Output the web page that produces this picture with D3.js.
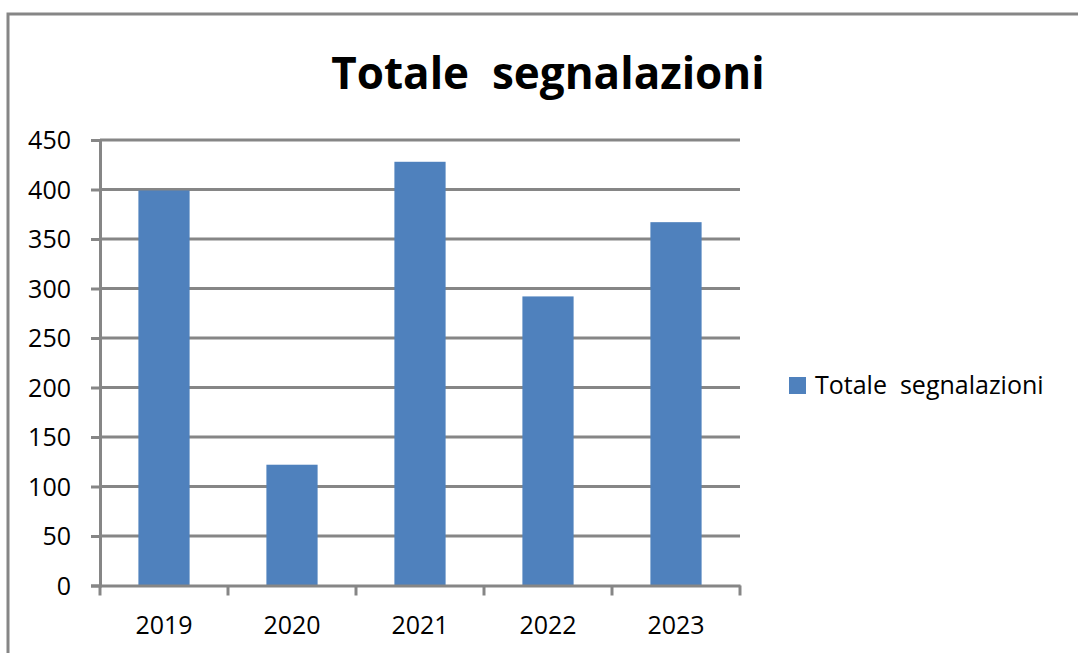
<!DOCTYPE html>
<html>
<head>
<meta charset="utf-8">
<script src="https://cdn.jsdelivr.net/npm/d3@7"></script>
<style>
  html,body{margin:0;padding:0;background:#fff;}
  svg{display:block;}
  text{font-family:"Open Sans",sans-serif;fill:#000;}
</style>
</head>
<body>
<div id="chart"></div>
<script>
const years  = ['2019','2020','2021','2022','2023'];
const totals = [399, 122, 428, 292, 367];
const yTicks = [0,50,100,150,200,250,300,350,400,450];
const seriesName = 'Totale  segnalazioni';
const titleText  = 'Totale  segnalazioni';

const W = 1078, H = 653;
const gridCol = '#868686', barCol = '#4f81bd';

const svg = d3.select('#chart').append('svg')
    .attr('width', W).attr('height', H);

// outer frame of the chart area (runs off right/bottom)
svg.append('rect')
    .attr('x', 8).attr('y', 14)
    .attr('width', W + 20).attr('height', H + 20)
    .attr('fill', '#fff')
    .attr('stroke', gridCol).attr('stroke-width', 3);

const plot = {left: 100, right: 740, top: 140, bottom: 585.5};

const x = d3.scaleBand()
    .domain(years)
    .range([plot.left, plot.right])
    .paddingInner(0.6).paddingOuter(0.3);

const xCat = d3.scaleBand().domain(years).range([plot.left, plot.right]);

const y = d3.scaleLinear()
    .domain([0, 450])
    .range([plot.bottom, plot.top]);

// gridlines
svg.append('g').selectAll('line')
    .data(yTicks.filter(d => d > 0))
    .join('line')
    .attr('x1', plot.left).attr('x2', plot.right)
    .attr('y1', d => y(d)).attr('y2', d => y(d))
    .attr('stroke', gridCol).attr('stroke-width', 3);

// bars
svg.append('g').selectAll('rect')
    .data(totals)
    .join('rect')
    .attr('x', (d, i) => x(years[i]))
    .attr('width', x.bandwidth())
    .attr('y', d => y(d))
    .attr('height', d => y(0) - y(d))
    .attr('fill', barCol);

// y axis
const yAxis = svg.append('g')
    .attr('transform', `translate(${plot.left},0)`)
    .call(d3.axisLeft(y).tickValues(yTicks).tickSize(9).tickPadding(20));
yAxis.select('.domain').attr('stroke', gridCol).attr('stroke-width', 3);
yAxis.selectAll('.tick line').attr('stroke', gridCol).attr('stroke-width', 3);
yAxis.selectAll('text').style('font-size', '25px').attr('dy', '0.35em');

// x axis (ticks between categories, labels centred)
const xAxis = svg.append('g')
    .attr('transform', `translate(0,${plot.bottom})`)
    .call(d3.axisBottom(xCat).tickSize(0).tickPadding(31));
xAxis.select('.domain').attr('stroke', gridCol).attr('stroke-width', 3);
xAxis.selectAll('text').style('font-size', '25px');
xAxis.append('g').selectAll('line')
    .data(years.map(d => xCat(d)).concat([plot.right]))
    .join('line')
    .attr('x1', d => d).attr('x2', d => d)
    .attr('y1', 0).attr('y2', 10)
    .attr('stroke', gridCol).attr('stroke-width', 3);

// title
svg.append('text')
    .attr('x', 548).attr('y', 89)
    .attr('text-anchor', 'middle')
    .style('font-size', '44px').style('font-weight', 'bold')
    .style('white-space', 'pre')
    .text(titleText);

// legend
const lg = svg.append('g').attr('transform', 'translate(789,377)');
lg.append('rect').attr('width', 17).attr('height', 17).attr('fill', barCol);
lg.append('text')
    .attr('x', 26).attr('y', 17)
    .style('font-size', '25px')
    .style('white-space', 'pre')
    .text(seriesName);
</script>
</body>
</html>
